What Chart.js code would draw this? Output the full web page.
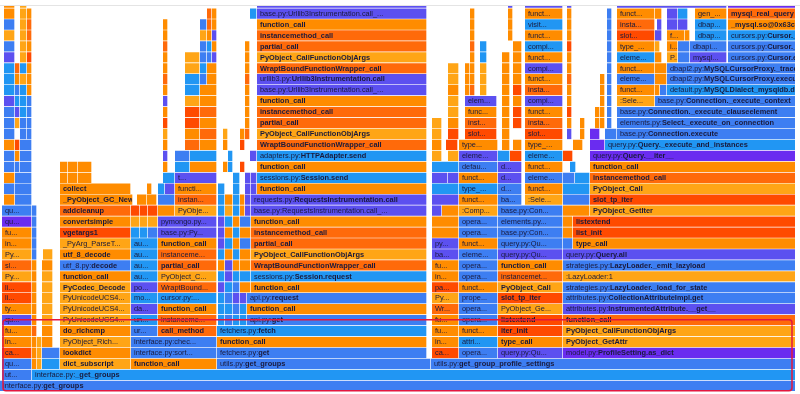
<!DOCTYPE html>
<html>
<head>
<meta charset="utf-8">
<script src="https://cdn.jsdelivr.net/npm/chart.js@4.4.1/dist/chart.umd.min.js"></script>
<style>
  html, body { margin: 0; padding: 0; background: #fff; }
  canvas { display: block; }
</style>
</head>
<body>
<canvas id="flame" width="800" height="394"></canvas>
<script>
// flame graph frames, one list per stack depth: [start, end, kind, label]
// start/end are in samples (the view shows 0..795), kind picks the colour
const depth0 = [[0,830,'b','interface.py:get_groups']];
const depth1 = [[2,32,'b','ut...'],[32,830,'s','interface.py:_get_groups']];
const depth2 = [[2,32,'b','qu...'],[32,37,'o',''],[37,42,'a',''],[42,60,'s',''],[60,131,'a','dict_subscript'],[131,217,'o','function_call'],[217,431,'b','utils.py:get_groups'],[431,830,'b','utils.py:get_group_profile_settings']];
const depth3 = [[2,32,'x','ca...'],[32,37,'o',''],[37,42,'a',''],[42,60,'b',''],[60,131,'o','lookdict'],[131,217,'b','interface.py:sort...'],[217,427,'b','fetchers.py:get'],[432,459,'x','ca...'],[459,498,'b','opera...'],[498,563,'v','query.py:Qu...'],[563,830,'p','model.py:ProfileSetting.as_dict']];
const depth4 = [[2,32,'o','in...'],[32,37,'o',''],[37,42,'a',''],[42,53,'o',''],[60,131,'a','PyObject_Rich...'],[131,217,'b','interface.py:chec...'],[217,427,'o','function_call'],[432,459,'o','in...'],[459,498,'s','attri...'],[498,563,'o','type_call'],[563,830,'a','PyObject_GetAttr']];
const depth5 = [[2,32,'o','fu...'],[32,37,'r',''],[42,53,'o',''],[60,131,'o','do_richcmp'],[131,158,'b','ur...'],[158,217,'r','call_method'],[217,427,'s','fetchers.py:fetch'],[432,459,'o','fu...'],[459,498,'o','funct...'],[498,563,'x','iter_init'],[563,830,'a','PyObject_CallFunctionObjArgs']];
const depth6 = [[2,32,'v','qu...'],[32,37,'o',''],[42,53,'a',''],[60,131,'a','PyUnicodeUCS4...'],[131,158,'s','un...'],[158,217,'r','instanceme...'],[218,225,'s',''],[225,233,'b',''],[233,240,'s',''],[240,247,'s',''],[247,427,'b','api.py:get'],[432,459,'o','fu...'],[459,498,'b','opera...'],[498,563,'x','listextend'],[563,830,'r','function_call']];
const depth7 = [[2,32,'o','ty...'],[32,37,'o',''],[42,53,'a',''],[60,131,'a','PyUnicodeUCS4...'],[131,158,'v','da...'],[158,217,'o','function_call'],[218,225,'s',''],[225,233,'s',''],[233,240,'b',''],[240,247,'s',''],[247,427,'o','function_call'],[432,459,'r','Wr...'],[459,498,'b','opera...'],[498,563,'a','PyObject_Ge...'],[563,830,'v','attributes.py:InstrumentedAttribute.__get__']];
const depth8 = [[2,32,'x','li...'],[32,37,'o',''],[42,53,'a',''],[60,131,'a','PyUnicodeUCS4...'],[131,158,'s','mo...'],[158,217,'s','cursor.py:...'],[218,225,'s',''],[225,233,'b',''],[233,240,'v',''],[240,247,'v',''],[247,427,'b','api.py:request'],[432,459,'a','Py...'],[459,498,'b','prope...'],[498,563,'x','slot_tp_iter'],[563,830,'b','attributes.py:CollectionAttributeImpl.get']];
const depth9 = [[2,32,'x','li...'],[32,37,'o',''],[42,53,'a',''],[60,131,'a','PyCodec_Decode'],[131,158,'v','po...'],[158,217,'r','WraptBound...'],[218,225,'v',''],[225,233,'s',''],[233,240,'b',''],[240,251,'o',''],[251,427,'o','function_call'],[432,459,'x','pa...'],[459,498,'o','funct...'],[498,563,'a','PyObject_Call'],[563,830,'b','strategies.py:LazyLoader._load_for_state']];
const depth10 = [[2,32,'a','Py...'],[32,37,'o',''],[42,53,'a',''],[60,131,'o','function_call'],[131,158,'s','au...'],[158,217,'a','PyObject_C...'],[218,225,'s',''],[225,233,'v',''],[233,240,'s',''],[240,251,'s',''],[251,427,'s','sessions.py:Session.request'],[432,459,'o','in...'],[459,498,'b','opera...'],[498,563,'r','instancemet...'],[563,830,'a',':LazyLoader:1']];
const depth11 = [[2,32,'r','sl...'],[32,37,'o',''],[42,53,'o',''],[60,131,'b','utf_8.py:decode'],[131,158,'s','au...'],[158,217,'r','partial_call'],[218,225,'o',''],[225,233,'v',''],[233,240,'o',''],[240,251,'o',''],[251,427,'r','WraptBoundFunctionWrapper_call'],[432,459,'o','fu...'],[459,498,'b','opera...'],[498,563,'o','function_call'],[563,830,'b','strategies.py:LazyLoader._emit_lazyload']];
const depth12 = [[2,32,'a','Py...'],[32,37,'b',''],[43,53,'a',''],[60,131,'o','utf_8_decode'],[131,158,'s','au...'],[158,217,'r','instanceme...'],[218,225,'s',''],[225,233,'o',''],[233,240,'s',''],[240,251,'o',''],[251,427,'a','PyObject_CallFunctionObjArgs'],[432,459,'v','ba...'],[459,498,'b','eleme...'],[498,563,'v','query.py:Qu...'],[563,830,'v','query.py:Query.all']];
const depth13 = [[2,32,'o','in...'],[32,37,'b',''],[60,131,'a','_PyArg_ParseT...'],[131,158,'s','au...'],[158,217,'o','function_call'],[218,225,'v',''],[225,233,'s',''],[233,240,'o',''],[240,251,'b',''],[251,427,'r','partial_call'],[432,459,'v','py...'],[459,498,'o','funct...'],[498,563,'b','query.py:Qu...'],[563,573,'b',''],[573,830,'o','type_call']];
const depth14 = [[2,32,'o','fu...'],[32,37,'b',''],[60,131,'x','vgetargs1'],[131,140,'s',''],[140,148,'s',''],[148,158,'b',''],[158,217,'v','base.py:Py...'],[218,225,'v',''],[225,233,'o',''],[233,240,'s',''],[240,251,'o',''],[251,427,'r','instancemethod_call'],[432,459,'o',''],[459,498,'b','opera...'],[498,563,'b','base.py:Con...'],[563,573,'o',''],[573,830,'x','list_init']];
const depth15 = [[2,32,'p','qu...'],[32,37,'b',''],[60,131,'o','convertsimple'],[131,140,'a',''],[140,148,'a',''],[148,158,'a',''],[158,217,'v','pymongo.py...'],[218,225,'v',''],[225,233,'s',''],[233,240,'o',''],[240,251,'b',''],[251,427,'o','function_call'],[432,459,'o',''],[459,498,'b','opera...'],[498,563,'b','elements.py...'],[563,573,'o',''],[573,830,'x','listextend']];
const depth16 = [[2,32,'b','qu...'],[32,37,'b',''],[60,131,'r','addcleanup'],[131,140,'x',''],[140,148,'x',''],[148,158,'x',''],[158,175,'o',''],[175,217,'a','PyObje...'],[218,225,'s',''],[225,233,'a',''],[233,240,'s',''],[240,245,'o',''],[245,251,'v',''],[251,427,'v','base.py:RequestsInstrumentation.call_...'],[432,442,'v',''],[442,459,'o',''],[459,498,'a',':Comp...'],[498,563,'b','base.py:Con...'],[563,590,'o',''],[590,830,'a','PyObject_GetIter']];
const depth17 = [[4,15,'o',''],[15,32,'b',''],[60,133,'o','_PyObject_GC_New'],[137,147,'o',''],[147,157,'o',''],[158,175,'b',''],[175,217,'r','instan...'],[218,225,'s',''],[225,233,'o',''],[233,240,'s',''],[240,245,'o',''],[245,251,'v',''],[251,427,'v','requests.py:RequestsInstrumentation.call'],[432,459,'v',''],[459,498,'o','funct...'],[498,522,'b','ba...'],[525,563,'a',':Sele...'],[563,590,'b',''],[590,830,'x','slot_tp_iter']];
const depth18 = [[4,15,'b',''],[15,32,'b',''],[60,131,'o','collect'],[147,152,'o',''],[158,165,'s',''],[165,175,'v',''],[175,217,'o','functi...'],[218,225,'s',''],[233,240,'s',''],[245,251,'v',''],[251,257,'v',''],[257,427,'o','function_call'],[432,459,'s',''],[459,498,'s','type_...'],[498,522,'b','d...'],[525,563,'o','funct...'],[563,590,'s',''],[590,830,'a','PyObject_Call']];
const depth19 = [[4,15,'o',''],[15,32,'b',''],[60,68,'o',''],[68,78,'o',''],[78,92,'o',''],[163,175,'s',''],[175,217,'v','t...'],[233,240,'s',''],[245,251,'v',''],[251,257,'v',''],[257,427,'s','sessions.py:Session.send'],[432,448,'v',''],[448,459,'v',''],[459,498,'o','funct...'],[498,522,'v','d...'],[525,563,'b','eleme...'],[563,575,'b',''],[575,590,'s',''],[590,830,'r','instancemethod_call']];
const depth20 = [[4,15,'b',''],[15,20,'b',''],[20,32,'b',''],[60,68,'o',''],[68,78,'o',''],[78,92,'o',''],[163,168,'o',''],[175,190,'s',''],[190,217,'o',''],[223,228,'o',''],[228,233,'s',''],[240,245,'x',''],[257,427,'o','function_call'],[432,459,'s',''],[459,498,'b','defau...'],[498,522,'v','d...'],[525,563,'o','funct...'],[570,576,'s',''],[590,830,'o','function_call']];
const depth21 = [[4,15,'b',''],[15,20,'o',''],[20,32,'b',''],[163,168,'v',''],[175,190,'b',''],[190,217,'s',''],[228,233,'s',''],[250,257,'v',''],[257,427,'s','adapters.py:HTTPAdapter.send'],[432,442,'a',''],[448,459,'a',''],[459,498,'v','eleme...'],[498,510,'s',''],[510,522,'x',''],[525,563,'s','eleme...'],[563,573,'x',''],[590,830,'p','query.py:Query.__iter__']];
const depth22 = [[4,15,'o',''],[15,20,'x',''],[20,32,'b',''],[163,168,'o',''],[185,200,'r',''],[200,217,'o',''],[223,228,'o',''],[240,245,'x',''],[257,427,'r','WraptBoundFunctionWrapper_call'],[432,442,'o',''],[446,458,'x',''],[459,498,'o','type...'],[502,510,'o',''],[513,522,'o',''],[525,563,'o','type_...'],[573,583,'o',''],[590,605,'p',''],[605,830,'s','query.py:Query._execute_and_instances']];
const depth23 = [[4,15,'b',''],[20,27,'b',''],[27,32,'b',''],[163,168,'a',''],[185,200,'o',''],[200,217,'r',''],[223,228,'a',''],[240,245,'o',''],[245,250,'r',''],[257,427,'a','PyObject_CallFunctionObjArgs'],[432,442,'a',''],[448,459,'x',''],[465,497,'x','slot...'],[502,510,'o',''],[525,563,'x','slot...'],[567,572,'v',''],[580,585,'o',''],[590,600,'p',''],[605,617,'b',''],[617,830,'b','base.py:Connection.execute']];
const depth24 = [[4,15,'b',''],[15,20,'a',''],[20,27,'b',''],[27,32,'b',''],[163,168,'x',''],[185,200,'x',''],[200,217,'o',''],[245,250,'o',''],[257,427,'r','partial_call'],[432,442,'a',''],[448,459,'o',''],[465,497,'r','inst...'],[502,510,'o',''],[513,522,'x',''],[525,563,'r','insta...'],[567,572,'o',''],[580,585,'o',''],[595,600,'o',''],[600,605,'o',''],[607,612,'b',''],[617,830,'b','elements.py:Select._execute_on_connection']];
const depth25 = [[4,15,'b',''],[15,20,'v',''],[20,27,'s',''],[27,32,'b',''],[163,168,'o',''],[185,200,'x',''],[200,217,'r',''],[245,250,'o',''],[257,427,'r','instancemethod_call'],[448,459,'a',''],[465,497,'o','func...'],[502,510,'o',''],[513,522,'x',''],[525,563,'o','funct...'],[567,572,'x',''],[595,600,'o',''],[600,605,'o',''],[607,612,'b',''],[617,830,'b','base.py:Connection._execute_clauseelement']];
const depth26 = [[4,15,'v',''],[15,20,'s',''],[20,27,'s',''],[27,32,'b',''],[163,168,'v',''],[185,200,'a',''],[200,217,'o',''],[245,250,'o',''],[257,427,'o','function_call'],[448,459,'a',''],[465,497,'v','elem...'],[502,510,'o',''],[513,522,'o',''],[525,563,'v','compi...'],[567,572,'o',''],[600,605,'o',''],[607,612,'b',''],[617,655,'a',':Sele...'],[655,830,'b','base.py:Connection._execute_context']];
const depth27 = [[4,15,'s',''],[15,20,'b',''],[20,27,'s',''],[27,32,'o',''],[163,168,'o',''],[185,200,'s',''],[200,217,'o',''],[245,250,'o',''],[257,427,'v','base.py:Urllib3Instrumentation.call_...'],[448,459,'o',''],[465,470,'o',''],[470,475,'r',''],[480,487,'a',''],[502,510,'o',''],[513,522,'x',''],[525,563,'r','insta...'],[567,572,'o',''],[600,605,'o',''],[607,612,'b',''],[617,655,'o','funct...'],[655,660,'o',''],[660,667,'b',''],[667,830,'s','default.py:MySQLDialect_mysqldb.do_execute']];
const depth28 = [[4,15,'s',''],[15,20,'o',''],[20,27,'a',''],[27,32,'o',''],[163,168,'r',''],[185,200,'s',''],[200,207,'b',''],[207,217,'o',''],[245,250,'r',''],[257,427,'v','urllib3.py:Urllib3Instrumentation.call'],[448,459,'a',''],[465,470,'o',''],[470,475,'o',''],[480,487,'a',''],[502,510,'o',''],[513,522,'o',''],[525,563,'o','funct...'],[567,572,'r',''],[600,605,'o',''],[607,612,'b',''],[617,655,'b','eleme...'],[655,667,'o',''],[667,830,'b','dbapi2.py:MySQLCursorProxy.execute']];
const depth29 = [[4,15,'s',''],[15,20,'r',''],[20,27,'s',''],[27,32,'o',''],[163,168,'o',''],[185,200,'a',''],[200,207,'s',''],[207,217,'o',''],[245,250,'o',''],[257,427,'r','WraptBoundFunctionWrapper_call'],[448,459,'a',''],[465,470,'o',''],[470,475,'o',''],[480,487,'a',''],[502,510,'o',''],[513,522,'o',''],[525,563,'v','compi...'],[567,572,'o',''],[607,612,'b',''],[617,655,'o','funct...'],[655,667,'o',''],[667,830,'b','dbapi2.py:MySQLCursorProxy._trace_method']];
const depth30 = [[4,15,'v',''],[20,27,'a',''],[27,32,'x',''],[163,168,'o',''],[185,200,'a',''],[200,207,'b',''],[207,212,'b',''],[212,217,'v',''],[245,250,'o',''],[257,427,'a','PyObject_CallFunctionObjArgs'],[470,475,'o',''],[480,487,'s',''],[502,510,'o',''],[513,522,'o',''],[525,563,'o','funct...'],[567,572,'o',''],[607,612,'b',''],[617,655,'s','eleme...'],[655,662,'o',''],[667,678,'a','P...'],[678,690,'b',''],[690,727,'v','mysql...'],[728,830,'b','cursors.py:Cursor.execute']];
const depth31 = [[4,15,'b',''],[20,27,'a',''],[27,32,'o',''],[163,168,'r',''],[200,207,'b',''],[207,212,'s',''],[212,217,'o',''],[245,250,'o',''],[257,427,'r','partial_call'],[470,475,'r',''],[480,487,'s',''],[513,522,'o',''],[525,563,'s','compi...'],[567,572,'x',''],[607,612,'b',''],[617,655,'o','type_...'],[655,660,'a',''],[667,678,'o','i...'],[678,690,'b',''],[690,727,'b','dbapi...'],[728,830,'b','cursors.py:Cursor._query']];
const depth32 = [[4,15,'a',''],[20,27,'a',''],[27,32,'r',''],[163,168,'o',''],[200,207,'a',''],[207,212,'o',''],[212,217,'v',''],[257,427,'r','instancemethod_call'],[470,475,'o',''],[508,513,'o',''],[525,563,'o','funct...'],[567,572,'o',''],[607,612,'b',''],[617,655,'x','slot...'],[655,662,'v',''],[667,685,'o','f...'],[685,690,'o',''],[695,727,'s','dbap...'],[728,830,'s','cursors.py:Cursor._do_query']];
const depth33 = [[4,15,'b',''],[20,27,'a',''],[27,32,'r',''],[163,168,'o',''],[200,207,'b',''],[207,212,'r',''],[212,217,'o',''],[257,427,'o','function_call'],[470,475,'o',''],[508,513,'o',''],[525,563,'s','visit...'],[567,572,'o',''],[607,612,'b',''],[617,655,'r','insta...'],[657,662,'v',''],[667,678,'v',''],[678,688,'v',''],[695,727,'s','dbap...'],[728,830,'o','_mysql.so@0x63c0']];
const depth34 = [[4,15,'o',''],[20,27,'a',''],[27,32,'o',''],[207,212,'r',''],[212,217,'o',''],[250,257,'s',''],[257,427,'v','base.py:Urllib3Instrumentation.call_...'],[470,475,'o',''],[508,513,'o',''],[525,563,'o','funct...'],[567,572,'o',''],[607,612,'b',''],[617,655,'o','funct...'],[655,662,'o',''],[667,678,'v',''],[678,688,'s',''],[695,727,'o','gen_...'],[728,830,'r','mysql_real_query']];
const depth35 = [[4,15,'o',''],[20,27,'a',''],[257,427,'v',''],[508,513,'v',''],[525,563,'v',''],[567,572,'v',''],[617,727,'v',''],[728,830,'p','']];

const depths = [depth0, depth1, depth2, depth3, depth4, depth5, depth6, depth7, depth8, depth9,
  depth10, depth11, depth12, depth13, depth14, depth15, depth16, depth17, depth18, depth19,
  depth20, depth21, depth22, depth23, depth24, depth25, depth26, depth27, depth28, depth29,
  depth30, depth31, depth32, depth33, depth34, depth35];

// colours per frame kind
const kindColors = {
  o: '#ff8c00',  // orange
  a: '#ffa516',  // light orange
  r: '#ff6a0a',  // red orange
  x: '#ff4a00',  // red
  b: '#3d7ef2',  // blue
  s: '#2196f3',  // light blue
  v: '#5c50f0',  // violet
  p: '#6a2cf0'   // purple
};

var points = [];
var barColors = [];
var frameLabels = [];
depths.forEach(function (frames, d) {
  frames.forEach(function (f) {
    points.push({ x: [f[0], f[1]], y: d });
    barColors.push(kindColors[f[2]]);
    frameLabels.push(f[3]);
  });
});

// writes the frame names inside the bars, file part normal and function bold
var labelPlugin = {
  id: 'frameLabels',
  afterDatasetsDraw: function (chart) {
    var ctx = chart.ctx;
    var area = chart.chartArea;
    var meta = chart.getDatasetMeta(0);
    ctx.save();
    ctx.beginPath();
    ctx.rect(area.left, area.top, area.right - area.left, area.bottom - area.top);
    ctx.clip();
    ctx.textBaseline = 'middle';
    ctx.fillStyle = '#1a1a3c';
    meta.data.forEach(function (bar, i) {
      var text = frameLabels[i];
      if (!text) return;
      var p = bar.getProps(['x', 'y', 'base', 'height'], true);
      var left = Math.min(p.x, p.base);
      var right = Math.max(p.x, p.base);
      ctx.save();
      ctx.beginPath();
      ctx.rect(left, p.y - p.height / 2, right - left - 1, p.height);
      ctx.clip();
      var tx = left + 3;
      var ty = p.y + 0.5;
      var normal = '7.4px "Liberation Sans", Arial, sans-serif';
      var bold = 'bold 7.4px "Liberation Sans", Arial, sans-serif';
      var cut = text.indexOf('.py:');
      if (text.slice(-3) === '...' || text.charAt(0) === ':') {
        ctx.font = normal;
        ctx.fillText(text, tx, ty);
      } else if (cut >= 0) {
        var head = text.slice(0, cut + 4);
        ctx.font = normal;
        ctx.fillText(head, tx, ty);
        tx += ctx.measureText(head).width;
        ctx.font = bold;
        ctx.fillText(text.slice(cut + 4), tx, ty);
      } else {
        ctx.font = bold;
        ctx.fillText(text, tx, ty);
      }
      ctx.restore();
    });
    ctx.restore();
  },
  afterDraw: function (chart) {
    var ctx = chart.ctx;
    var xs = chart.scales.x, ys = chart.scales.y;
    ctx.save();
    // top border of the view
    ctx.strokeStyle = '#e4e4e4';
    ctx.lineWidth = 1;
    ctx.beginPath();
    ctx.moveTo(0, chart.chartArea.top - 0.5);
    ctx.lineTo(800, chart.chartArea.top - 0.5);
    ctx.stroke();
    // highlight box around the lower frames
    var x1 = xs.getPixelForValue(3), x2 = xs.getPixelForValue(792);
    var y1 = ys.getPixelForValue(6.0), y2 = ys.getPixelForValue(-0.48);
    ctx.strokeStyle = '#e3173e';
    ctx.lineWidth = 1.5;
    ctx.beginPath();
    ctx.roundRect(x1, y1, x2 - x1, y2 - y1, 3);
    ctx.stroke();
    ctx.restore();
  }
};

var chart = new Chart(document.getElementById('flame').getContext('2d'), {
  type: 'bar',
  data: {
    datasets: [{
      data: points,
      backgroundColor: barColors,
      borderColor: '#ffffff',
      borderWidth: { top: 1, right: 1, bottom: 0, left: 0 },
      borderSkipped: false,
      barPercentage: 1,
      categoryPercentage: 1,
      grouped: false,
      clip: 0
    }]
  },
  options: {
    indexAxis: 'y',
    responsive: false,
    animation: false,
    layout: { padding: { left: 0, right: 5, top: 6, bottom: 3 } },
    scales: {
      x: { type: 'linear', min: 0, max: 795, display: false },
      // offset off, otherwise the bar chart pads half a tick at both ends
      y: { type: 'linear', min: -0.5, max: 34.66, offset: false, display: false, ticks: { stepSize: 10 } }
    },
    plugins: {
      legend: { display: false },
      tooltip: { enabled: false }
    }
  },
  plugins: [labelPlugin]
});
</script>
</body>
</html>
